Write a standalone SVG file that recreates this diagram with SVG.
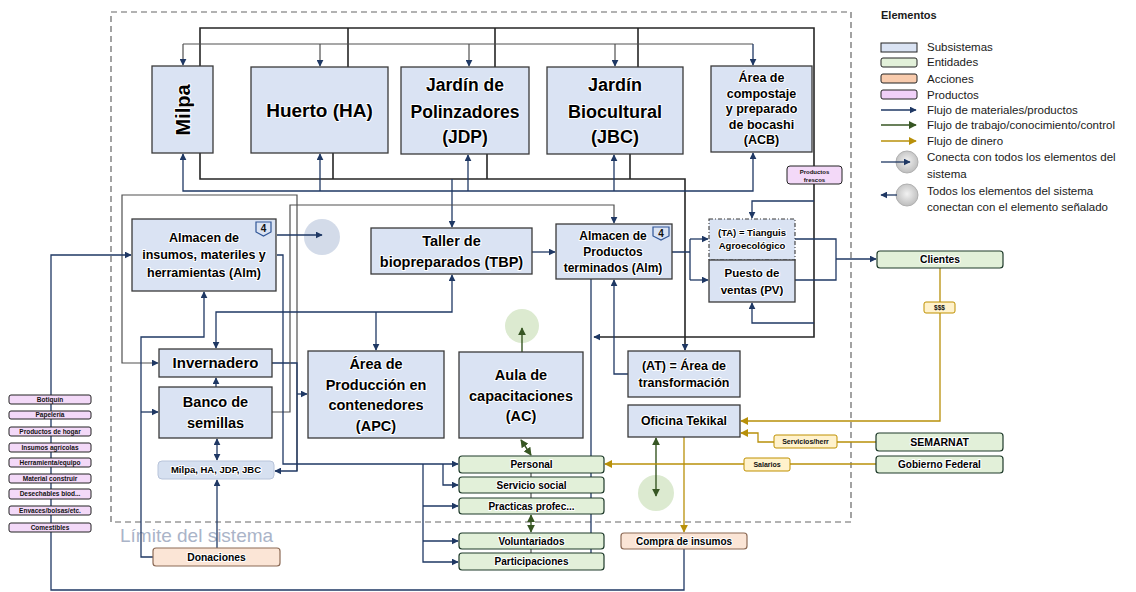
<svg xmlns="http://www.w3.org/2000/svg" width="1136" height="592" viewBox="0 0 1136 592">
<defs>
<style>
.sub{fill:#dae3f3;stroke:#3a3a3a;stroke-width:1.3}
.ent{fill:#e2f0d9;stroke:#1e3a2a;stroke-width:1.2}
.act{fill:#fbe5d6;stroke:#8c6a55;stroke-width:1.2}
.prd{fill:#f3d9f8;stroke:#222;stroke-width:1}
.lbl{fill:#fff2cc;stroke:#bf9000;stroke-width:1}
.t{font-family:"Liberation Sans",Arial,sans-serif;font-weight:bold;fill:#000;text-anchor:middle;paint-order:stroke;stroke:#fff;stroke-width:2;stroke-linejoin:round}
.ts{font-family:"Liberation Sans",Arial,sans-serif;font-weight:bold;fill:#111;text-anchor:middle}
.lg{font-family:"Liberation Sans",Arial,sans-serif;font-size:11.5px;fill:#1a1a1a}
.c{fill:none;stroke:#1f3864;stroke-width:1.3}
.k{fill:none;stroke:#262626;stroke-width:1.6}
.gy{fill:none;stroke:#505050;stroke-width:1.2}
.g{fill:none;stroke:#375623;stroke-width:1.4}
.m{fill:none;stroke:#b8900a;stroke-width:1.3}
.badge{fill:#dae3f3;stroke:#2f5597;stroke-width:1.2}
</style>
<marker id="an" viewBox="0 0 10 10" refX="9" refY="5" markerWidth="7" markerHeight="7" markerUnits="userSpaceOnUse" orient="auto-start-reverse"><path d="M0,0 L10,5 L0,10 z" fill="#1f3864"/></marker>
<marker id="ag" viewBox="0 0 10 10" refX="9" refY="5" markerWidth="8" markerHeight="8" markerUnits="userSpaceOnUse" orient="auto-start-reverse"><path d="M0,0 L10,5 L0,10 z" fill="#375623"/></marker>
<marker id="am" viewBox="0 0 10 10" refX="9" refY="5" markerWidth="8" markerHeight="8" markerUnits="userSpaceOnUse" orient="auto-start-reverse"><path d="M0,0 L10,5 L0,10 z" fill="#b8900a"/></marker>
<radialGradient id="gc" cx="50%" cy="45%" r="55%"><stop offset="0" stop-color="#f2f2f2"/><stop offset="1" stop-color="#bdbdbd"/></radialGradient>
</defs>
<rect width="1136" height="592" fill="#fff"/>

<!-- system boundary -->
<rect x="111" y="12" width="740" height="510" fill="none" stroke="#666" stroke-width="1.2" stroke-dasharray="6 4"/>
<text x="120" y="542" font-family="Liberation Sans,Arial,sans-serif" font-size="19" fill="#aab4c8">Límite del sistema</text>

<!-- connection circles (under the arrows) -->
<g id="circle-alm"><circle cx="322" cy="237" r="18" fill="#d3dbe9"/></g>
<g id="circle-ac"><circle cx="522" cy="326" r="17" fill="#dcead0"/></g>
<g id="circle-of"><circle cx="656" cy="493" r="18" fill="#dcead0"/></g>

<!-- connectors -->
<g id="connectors">
<path class="k" d="M200,66 V28 H814 V337 H594" marker-end="url(#an)"/>
<path class="k" d="M348,67 V28 M495,67 V28 M638,67 V28"/>
<path class="c" d="M814,201 H752 V218" marker-end="url(#an)"/>
<path class="c" d="M814,323 H752 V303" marker-end="url(#an)"/>
<path class="gy" d="M183,44 H753"/>
<path class="gy" d="M183,44 V65" marker-end="url(#an)"/>
<path class="gy" d="M320,44 V66" marker-end="url(#an)"/>
<path class="gy" d="M469,44 V66" marker-end="url(#an)"/>
<path class="gy" d="M615,44 V66" marker-end="url(#an)"/>
<path class="c" stroke-width="2" d="M753,44 V65" marker-end="url(#an)"/>
<path class="k" d="M200,153 V179 H685 V350" marker-end="url(#an)"/>
<path class="k" d="M333,153 V179 M487,154 V179 M630,154 V179"/>
<path class="c" stroke-width="2" d="M452,179 V227" marker-end="url(#an)"/>
<path class="c" d="M183,154 V191 H753 V153" marker-start="url(#an)" marker-end="url(#an)"/>
<path class="c" d="M320,191 V154" marker-end="url(#an)"/>
<path class="c" d="M468,191 V155" marker-end="url(#an)"/>
<path class="c" d="M614,191 V155" marker-end="url(#an)"/>
<path class="gy" d="M297,471 V195 H122 V363 H158" marker-end="url(#an)"/>
<path class="c" d="M272,363 H297 V471 H275" marker-end="url(#an)"/>
<path class="c" d="M297,394 H307" marker-end="url(#an)"/>
<path class="gy" d="M272,412 H290 V205 H614 V223" marker-end="url(#an)"/>
<path class="c" d="M277,255 H283 V464 H458" marker-end="url(#an)"/>
<path class="c" d="M423,464 V562 H458" marker-end="url(#an)"/>
<path class="c" d="M423,506 H458" marker-end="url(#an)"/>
<path class="c" d="M423,541 H458" marker-end="url(#an)"/>
<path class="c" d="M443,464 V485 H458" marker-end="url(#an)"/>
<path class="c" d="M277,235 H322" marker-end="url(#an)"/>
<path class="c" d="M216,348 V312 H452 V275" marker-start="url(#an)" marker-end="url(#an)"/>
<path class="c" d="M376,312 V350" marker-end="url(#an)"/>
<path class="c" d="M532,252 H555" marker-end="url(#an)"/>
<path class="c" d="M672,252 H690 M690,239 V280"/>
<path class="c" d="M690,239 H708" marker-end="url(#an)"/>
<path class="c" d="M690,280 H708" marker-end="url(#an)"/>
<path class="c" d="M795,239 H836 V280 H795"/>
<path class="c" d="M836,259 H876" marker-end="url(#an)"/>
<path class="c" d="M628,374 H614 V280" marker-end="url(#an)"/>
<path class="c" d="M591,279 V566"/>
<path d="M587.5,460 L594.5,460 L591,467 Z M587.5,481 L594.5,481 L591,488 Z M587.5,502 L594.5,502 L591,509 Z M587.5,537 L594.5,537 L591,544 Z M587.5,558 L594.5,558 L591,565 Z" fill="#1f3864"/>
<path class="g" d="M522,352 V328" marker-end="url(#ag)"/>
<path class="g" d="M521,440 L531,455" marker-start="url(#ag)" marker-end="url(#ag)"/>
<path class="g" d="M531,515 V532" marker-start="url(#ag)" marker-end="url(#ag)"/>
<path class="g" d="M656,438 V496" marker-start="url(#ag)" marker-end="url(#ag)"/>
<path class="gy" stroke="#9a9a9a" d="M531,473 V477 M531,493 V498 M531,549 V553"/>
<path class="m" d="M684,437 V532" marker-end="url(#am)"/>
<path class="m" d="M940,268 V421 H741" marker-end="url(#am)"/>
<path class="m" d="M876,442 H758 V433 H741" marker-end="url(#am)"/>
<path class="m" d="M876,464 H605" marker-end="url(#am)"/>
<path class="c" d="M684,549 V590 H51 V255 H131" marker-end="url(#an)"/>
<path class="c" d="M153,557 H141 V337 H204 V292" marker-end="url(#an)"/>
<path class="c" d="M141,412 H158" marker-end="url(#an)"/>
<path class="c" d="M217,548 V480" marker-end="url(#an)"/>
<path class="c" d="M217,439 V460" marker-start="url(#an)" marker-end="url(#an)"/>
<path class="c" d="M216,387 V378" marker-end="url(#an)"/>
</g>

<!-- top subsystems -->
<g id="milpa"><rect class="sub" x="152" y="66" width="61" height="87"/><text class="t" font-size="20" transform="translate(182.5,110) rotate(-90)" y="7">Milpa</text></g>
<g id="huerto"><rect class="sub" x="251" y="67" width="137" height="86"/><text class="t" font-size="19" x="319.5" y="116.6">Huerto (HA)</text></g>
<g id="jdp"><rect class="sub" x="401" y="67" width="128" height="87"/><text class="t" font-size="17.5" x="465"><tspan x="465" y="91">Jardín de</tspan><tspan x="465" y="118">Polinzadores</tspan><tspan x="465" y="143">(JDP)</tspan></text></g>
<g id="jbc"><rect class="sub" x="547" y="67" width="136" height="87"/><text class="t" font-size="18" x="615"><tspan x="615" y="91">Jardín</tspan><tspan x="615" y="118">Biocultural</tspan><tspan x="615" y="143">(JBC)</tspan></text></g>
<g id="acb"><rect class="sub" x="711" y="66" width="101" height="86"/><text class="t" font-size="12.5" x="761.5"><tspan x="761.5" y="82.4">Área de</tspan><tspan x="761.5" y="97.9">compostaje</tspan><tspan x="761.5" y="113.4">y preparado</tspan><tspan x="761.5" y="128.9">de bocashi</tspan><tspan x="761.5" y="144.4">(ACB)</tspan></text></g>

<!-- middle subsystems -->
<g id="alm-insumos"><rect class="sub" x="132" y="219" width="144" height="72"/>
<path class="badge" d="M256,222 H271 V232 L263.5,236 L256,232 Z"/><text class="ts" font-size="10" x="263.5" y="232" fill="#1f3864">4</text>
<text class="t" font-size="12.5" x="204"><tspan x="204" y="242.4">Almacen de</tspan><tspan x="204" y="259.4">insumos, materiles y</tspan><tspan x="204" y="277.4">herramientas (Alm)</tspan></text></g>
<g id="taller"><rect class="sub" x="371" y="228" width="161" height="46"/><text class="t" font-size="14.5" x="451.5"><tspan x="451.5" y="246">Taller de</tspan><tspan x="451.5" y="267">biopreparados (TBP)</tspan></text></g>
<g id="alm-productos"><rect class="sub" x="556" y="224" width="116" height="55"/>
<path class="badge" d="M653,227 H669 V236 L661,240 L653,236 Z"/><text class="ts" font-size="10" x="661" y="236.5" fill="#1f3864">4</text>
<text class="t" font-size="12" x="613"><tspan x="613" y="240.2">Almacen de</tspan><tspan x="613" y="256.2">Productos</tspan><tspan x="613" y="272.2">terminados (Alm)</tspan></text></g>
<g id="ta"><rect x="709" y="219" width="86" height="41" fill="#dae3f3" stroke="#3a3a3a" stroke-width="1.1" stroke-dasharray="4 2 1 2"/><text class="t" font-size="9.5" x="752"><tspan x="752" y="236.3">(TA) = Tianguis</tspan><tspan x="752" y="249.3">Agroecológico</tspan></text></g>
<g id="pv"><rect class="sub" x="709" y="260" width="86" height="42"/><text class="t" font-size="11.5" x="752"><tspan x="752" y="277">Puesto de</tspan><tspan x="752" y="294">ventas (PV)</tspan></text></g>
<g id="frescos"><rect class="prd" x="787" y="166" width="55" height="18" rx="3"/><text class="ts" font-size="6" x="814.5"><tspan x="814.5" y="174">Productos</tspan><tspan x="814.5" y="181.5">frescos</tspan></text></g>

<g id="invernadero"><rect class="sub" x="159" y="349" width="113" height="28"/><text class="t" font-size="15" x="215.5" y="368">Invernadero</text></g>
<g id="banco"><rect class="sub" x="159" y="387" width="113" height="51"/><text class="t" font-size="14.5" x="215.5"><tspan x="215.5" y="407">Banco de</tspan><tspan x="215.5" y="428">semillas</tspan></text></g>
<g id="milpa-grupo"><rect x="158" y="461" width="116" height="18" rx="4" fill="#d6e0f0" stroke="#b8c4da" stroke-width="1"/><text class="t" font-size="9.5" x="216" y="473.3">Milpa, HA, JDP, JBC</text></g>
<g id="apc"><rect class="sub" x="308" y="351" width="136" height="87"/><text class="t" font-size="14.5" x="376"><tspan x="376" y="369">Área de</tspan><tspan x="376" y="390">Producción en</tspan><tspan x="376" y="410">contenedores</tspan><tspan x="376" y="431">(APC)</tspan></text></g>
<g id="ac"><rect class="sub" x="459" y="352" width="124" height="86"/><text class="t" font-size="14.5" x="521"><tspan x="521" y="380">Aula de</tspan><tspan x="521" y="401">capacitaciones</tspan><tspan x="521" y="421">(AC)</tspan></text></g>
<g id="at"><rect class="sub" x="628" y="351" width="112" height="46"/><text class="t" font-size="12.5" x="684"><tspan x="684" y="370.4">(AT) = Área de</tspan><tspan x="684" y="387.4">transformación</tspan></text></g>
<g id="oficina"><rect class="sub" x="628" y="405" width="112" height="32"/><text class="t" font-size="12.3" x="684" y="425.3">Oficina Tekikal</text></g>

<!-- entities -->
<g id="personal"><rect class="ent" x="459" y="456" width="145" height="17" rx="3"/><text class="t" font-size="10" x="531.5" y="468">Personal</text></g>
<g id="servicio"><rect class="ent" x="459" y="477" width="145" height="16" rx="3"/><text class="t" font-size="10" x="531.5" y="488.5">Servicio social</text></g>
<g id="practicas"><rect class="ent" x="459" y="498" width="145" height="16" rx="3"/><text class="t" font-size="10" x="531.5" y="509.5">Practicas profec...</text></g>
<g id="voluntariados"><rect class="ent" x="459" y="533" width="145" height="16" rx="3"/><text class="t" font-size="10" x="531.5" y="544.5">Voluntariados</text></g>
<g id="participaciones"><rect class="ent" x="459" y="553" width="145" height="17" rx="3"/><text class="t" font-size="10" x="531.5" y="565">Participaciones</text></g>
<g id="clientes"><rect class="ent" x="877" y="251" width="126" height="17" rx="3"/><text class="t" font-size="10.3" x="940" y="263">Clientes</text></g>
<g id="semarnat"><rect class="ent" x="876" y="433" width="127" height="18" rx="3"/><text class="t" font-size="10.5" x="939.5" y="445.7">SEMARNAT</text></g>
<g id="gobierno"><rect class="ent" x="876" y="456" width="127" height="17" rx="3"/><text class="t" font-size="10" x="939.5" y="468">Gobierno Federal</text></g>

<!-- actions -->
<g id="compra"><rect class="act" x="621" y="533" width="126" height="16" rx="3"/><text class="t" font-size="10" x="684" y="544.5">Compra de insumos</text></g>
<g id="donaciones"><rect class="act" x="153" y="548" width="127" height="18" rx="3"/><text class="t" font-size="10.3" x="216.5" y="560.6">Donaciones</text></g>

<!-- money labels -->
<g id="lbl-sss"><rect class="lbl" x="924" y="302" width="31" height="11" rx="2"/><text class="ts" font-size="6.5" x="939.5" y="310">$$$</text></g>
<g id="lbl-serv"><rect class="lbl" x="774" y="435" width="63" height="13" rx="2"/><text class="ts" font-size="7" x="805.5" y="444">Servicios/herr</text></g>
<g id="lbl-sal"><rect class="lbl" x="744" y="458" width="46" height="13" rx="2"/><text class="ts" font-size="7" x="767" y="467">Salarios</text></g>

<!-- product list -->
<g id="productos-lista">
<rect class="prd" x="9" y="395" width="82" height="9" rx="2"/><text class="ts" font-size="6.5" x="50" y="401.8">Botiquín</text>
<rect class="prd" x="9" y="411" width="82" height="8" rx="2"/><text class="ts" font-size="6.5" x="50" y="417.3">Papelería</text>
<rect class="prd" x="9" y="427" width="82" height="9" rx="2"/><text class="ts" font-size="6.5" x="50" y="433.8">Productos de hogar</text>
<rect class="prd" x="9" y="443" width="82" height="9" rx="2"/><text class="ts" font-size="6.5" x="50" y="449.8">Insumos agrícolas</text>
<rect class="prd" x="9" y="458" width="82" height="9" rx="2"/><text class="ts" font-size="6.5" x="50" y="464.8">Herramienta/equipo</text>
<rect class="prd" x="9" y="474" width="82" height="9" rx="2"/><text class="ts" font-size="6.5" x="50" y="480.8">Material construir</text>
<rect class="prd" x="9" y="489" width="82" height="10" rx="2"/><text class="ts" font-size="6.5" x="50" y="496.3">Desechables biod...</text>
<rect class="prd" x="9" y="506" width="82" height="9" rx="2"/><text class="ts" font-size="6.5" x="50" y="512.8">Envaces/bolsas/etc.</text>
<rect class="prd" x="9" y="523" width="82" height="9" rx="2"/><text class="ts" font-size="6.5" x="50" y="529.8">Comestibles</text>
</g>

<!-- legend -->
<g id="legend">
<text x="881" y="19" font-family="Liberation Sans,Arial,sans-serif" font-size="11" font-weight="bold" fill="#1a1a1a">Elementos</text>
<rect x="881" y="43" width="36" height="9" fill="#dae3f3" stroke="#222"/>
<rect x="881" y="58" width="36" height="9" rx="2" fill="#e2f0d9" stroke="#222"/>
<rect x="881" y="74" width="36" height="9" rx="2" fill="#f8cbad" stroke="#222"/>
<rect x="881" y="90" width="36" height="9" rx="2" fill="#f0d0f8" stroke="#222"/>
<path class="c" d="M881,110 H916" marker-end="url(#an)"/>
<path class="g" d="M881,125 H916" marker-end="url(#ag)"/>
<path class="m" d="M881,141 H916" marker-end="url(#am)"/>
<circle cx="907" cy="162" r="11" fill="url(#gc)" stroke="#b0b0b0"/>
<path class="c" stroke="#222" d="M881,162 H910" marker-end="url(#an)"/>
<circle cx="907" cy="195" r="11" fill="url(#gc)" stroke="#b0b0b0"/>
<path class="c" stroke="#222" d="M897,195 H881" marker-end="url(#an)"/>
<text class="lg" x="927" y="51">Subsistemas</text>
<text class="lg" x="927" y="66">Entidades</text>
<text class="lg" x="927" y="83">Acciones</text>
<text class="lg" x="927" y="99">Productos</text>
<text class="lg" x="927" y="114">Flujo de materiales/productos</text>
<text class="lg" x="927" y="129">Flujo de trabajo/conocimiento/control</text>
<text class="lg" x="927" y="145">Flujo de dinero</text>
<text class="lg" x="927" y="161">Conecta con todos los elementos del</text>
<text class="lg" x="927" y="178">sistema</text>
<text class="lg" x="927" y="195">Todos los elementos del sistema</text>
<text class="lg" x="927" y="211">conectan con el elemento señalado</text>
</g>
</svg>
